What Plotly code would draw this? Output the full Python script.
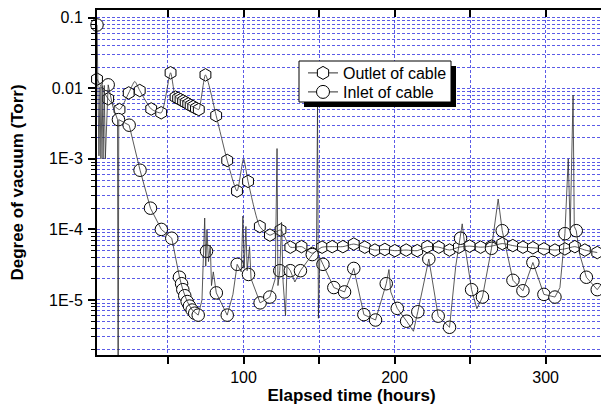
import plotly.graph_objects as go

# ---------------- data ----------------
outlet_x = [3, 10.4, 17.9, 24, 31.3, 38.9, 45.5, 51.7, 55, 56.7, 58.3, 60, 61.7, 63.4, 65, 66.7,
            68.5, 70.4, 74.8, 81.9, 89.2, 95.7, 103, 110.8, 117.5, 124.5, 131, 138.4, 145.5, 152,
            158.7, 165.8, 173, 180.3, 187, 193.6, 200.2, 207.7, 215, 221.6, 229.3, 236.4, 242.6,
            249.7, 257, 264.2, 271.3, 278.3, 285, 291.6, 298.9, 306.2, 312.8, 319.4, 326, 334.2]
outlet_y = [0.0135, 0.0071, 0.0050, 0.0086, 0.0093, 0.0051, 0.0045, 0.0166, 0.0075, 0.0072,
            0.0069, 0.0066, 0.0063, 0.0060, 0.0057, 0.0055, 0.0052, 0.0050, 0.0155, 0.0041,
            9.5e-4, 3.5e-4, 4.8e-4, 1.1e-4, 8.3e-5, 9.8e-5, 5.6e-5, 5.7e-5, 4.6e-5, 5.6e-5,
            5.7e-5, 5.7e-5, 6.2e-5, 5.6e-5, 5.1e-5, 5.2e-5, 5.0e-5, 5.1e-5, 5.0e-5, 5.7e-5,
            5.6e-5, 5.1e-5, 5.6e-5, 5.8e-5, 5.6e-5, 5.8e-5, 6.3e-5, 5.9e-5, 5.6e-5, 5.5e-5,
            5.3e-5, 5.1e-5, 5.3e-5, 5.7e-5, 5.1e-5, 4.7e-5]

# outlet recorded trace (includes short excursions between symbols)
outlet_raw_x = [3, 10.4, 17.9, 24, 28, 31.3, 38.9, 45.5, 51.7, 55, 58.3, 61.7, 65, 68.5, 70.4,
                74.8, 81.9, 89.2, 95.7, 100, 103, 110.8, 117.5, 124.5, 131, 138.4, 145.5, 152,
                158.7, 165.8, 173, 180.3, 187, 193.6, 200.2, 207.7, 215, 221.6, 229.3, 236.4,
                242.6, 249.7, 257, 264.2, 271.3, 278.3, 285, 291.6, 298.9, 306.2, 312.8, 319.4,
                326, 334.2]
outlet_raw_y = [0.0135, 0.0071, 0.0050, 0.0086, 0.0125, 0.0093, 0.0051, 0.0045, 0.0166, 0.0075,
                0.0069, 0.0063, 0.0057, 0.0052, 0.0050, 0.0155, 0.0041, 9.5e-4, 3.5e-4, 1.0e-3,
                4.8e-4, 1.1e-4, 8.3e-5, 9.8e-5, 5.6e-5, 5.7e-5, 4.6e-5, 5.6e-5, 5.7e-5, 5.7e-5,
                6.2e-5, 5.6e-5, 5.1e-5, 5.2e-5, 5.0e-5, 5.1e-5, 5.0e-5, 5.7e-5, 5.6e-5, 5.1e-5,
                5.6e-5, 5.8e-5, 5.6e-5, 5.8e-5, 6.3e-5, 5.9e-5, 5.6e-5, 5.5e-5, 5.3e-5, 5.1e-5,
                5.3e-5, 5.7e-5, 5.1e-5, 4.7e-5]

inlet_x = [3, 10.4, 17.2, 24.3, 31.5, 38.4, 45.6, 52.5, 57.6, 59.0, 59.8, 61.1, 62.7, 64.2, 66.0,
           67.7, 70.0, 75.5, 82.0, 89.2, 95.8, 103.3, 111.0, 117.4, 124.0, 131.0, 137.7, 145.5,
           152.6, 159.8, 166.9, 173.0, 179.7, 187.4, 194.5, 201.8, 208.0, 215.4, 222.7, 228.9,
           236.4, 243.7, 251.0, 258.2, 264.2, 271.3, 278.4, 285.0, 291.6, 298.9, 306.2, 312.8,
           320.3, 327.0, 334.2]
inlet_y = [0.079, 0.0112, 0.0036, 0.0030, 6.9e-4, 2.0e-4, 1.0e-4, 7.5e-5, 2.1e-5, 1.7e-5, 1.4e-5,
           1.15e-5, 9.5e-6, 8.2e-6, 7.2e-6, 6.5e-6, 6.1e-6, 4.9e-5, 1.26e-5, 6.1e-6, 3.2e-5,
           2.3e-5, 9.1e-6, 1.1e-5, 2.6e-5, 2.6e-5, 2.6e-5, 4.4e-5, 3.2e-5, 1.5e-5, 1.3e-5,
           2.8e-5, 6.2e-6, 5.2e-6, 1.7e-5, 7.6e-6, 5.0e-6, 6.8e-6, 3.8e-5, 5.9e-6, 4.1e-6,
           7.5e-5, 1.4e-5, 1.1e-5, 5.4e-5, 9.6e-5, 1.9e-5, 1.35e-5, 3.4e-5, 1.2e-5, 1.1e-5,
           8.7e-5, 9.6e-5, 2.1e-5, 1.4e-5]

# inlet recorded trace (includes spikes between symbols)
inlet_raw_x = [3, 3.8, 4.3, 5.0, 5.6, 6.4, 7.0, 7.8, 8.5, 10.4, 13.5, 16.6, 17.0, 17.4, 24.3,
               31.5, 38.4, 45.6, 52.5, 57.6, 59.8, 62.7, 66.0, 70.0, 72.5, 74.3, 75.0, 75.8,
               76.8, 78.0, 78.8, 80, 82.0, 89.2, 93, 95.8, 98.5, 99.6, 100.4, 101.6, 102.4, 104.0,
               105, 111.0, 117.4, 121.0, 122.2, 122.8, 124.0, 125.2, 126.2, 127.8, 128.8, 131.0,
               134.0, 137.7, 145.5, 148.3, 149.0, 149.6, 150.5, 152.6, 159.8, 166.9, 173.0,
               179.7, 187.4, 194.5, 196.3, 197.5, 201.8, 208.0, 212.5, 215.4, 222.7, 228.9,
               236.4, 240.5, 244.8, 246.5, 251.0, 254.5, 258.2, 264.2, 268.6, 271.3, 278.4,
               285.0, 291.6, 298.9, 306.2, 309.5, 312.8, 315.0, 316.3, 318.2, 319.0, 320.3,
               322.5, 327.0, 334.2, 338]
inlet_raw_y = [0.079, 0.0115, 0.0011, 0.0105, 0.001, 0.010, 0.001, 0.011, 0.001, 0.0112, 0.0055,
               0.0036, 1e-7, 0.0036, 0.0030, 6.9e-4, 2.0e-4, 1.0e-4, 7.5e-5, 2.1e-5, 1.4e-5,
               9.5e-6, 7.2e-6, 6.1e-6, 1.0e-5, 1.45e-4, 3.0e-5, 1.0e-4, 3.5e-5, 6.0e-5, 1.6e-5,
               2.5e-5, 1.26e-5, 6.1e-6, 1.2e-5, 3.2e-5, 2.5e-5, 1.55e-4, 2.8e-5, 1.1e-4, 2.6e-5,
               5.7e-5, 2.0e-5, 9.1e-6, 1.1e-5, 2.0e-5, 1.4e-3, 1.6e-5, 2.6e-5, 1.26e-4, 1.8e-5,
               6.0e-6, 3.0e-5, 2.6e-5, 1.8e-5, 2.6e-5, 4.4e-5, 5.0e-5, 5.6e-3, 5.5e-6, 4.0e-5,
               3.2e-5, 1.5e-5, 1.3e-5, 2.8e-5, 6.2e-6, 5.2e-6, 1.7e-5, 2.7e-5, 1.3e-5, 7.6e-6,
               5.0e-6, 3.6e-6, 6.8e-6, 3.8e-5, 5.9e-6, 4.1e-6, 3.0e-5, 1.2e-4, 6.0e-5, 1.4e-5,
               7.5e-6, 1.1e-5, 5.4e-5, 2.7e-4, 9.6e-5, 1.9e-5, 1.35e-5, 3.4e-5, 1.2e-5, 1.1e-5,
               1.5e-5, 8.7e-5, 1.0e-3, 1.0e-4, 8.0e-3, 1.1e-4, 9.6e-5, 4.5e-5, 2.1e-5, 1.4e-5,
               1.8e-5]

series_names = ["Outlet of cable", "Inlet of cable"]
x_tickvals = [50, 100, 150, 200, 250, 300]
x_ticktext = ["", "100", "", "200", "", "300"]
y_tickvals = [1e-5, 1e-4, 1e-3, 1e-2, 1e-1]
y_ticktext = ["1E-5", "1E-4", "1E-3", "0.01", "0.1"]

# ---------------- style ----------------
FONT = "Arial, 'Liberation Sans', sans-serif"
GRID = "rgba(50,50,225,0.8)"
LINE = "#303030"
y_minor = [k * 10.0 ** e for e in range(-7, 0) for k in range(2, 10)]

# the page body has an 8px margin: figure coords = page coords - 8
OFF = 8
PAGE_W, PAGE_H = 609, 405
W, H = PAGE_W - OFF, PAGE_H - OFF
PL, PT, PR, PB = 97, 10, 606, 355          # plot area in page pixels
L, T = PL - OFF, PT - OFF
R, B = W - (PR - OFF), H - (PB - OFF)
pw, ph = W - L - R, H - T - B


def px2paper(px, py):
    return (px - PL) / pw, (PB - py) / ph


fig = go.Figure()

# symbols (white filled) first, lines drawn over them
fig.add_trace(go.Scatter(x=outlet_x, y=outlet_y, mode="markers", showlegend=False,
                         cliponaxis=False,
                         marker=dict(symbol="hexagon", size=12.5, color="white",
                                     line=dict(color="black", width=1))))
fig.add_trace(go.Scatter(x=inlet_x, y=inlet_y, mode="markers", showlegend=False,
                         cliponaxis=False,
                         marker=dict(symbol="circle", size=12.5, color="white",
                                     line=dict(color="black", width=1))))
fig.add_trace(go.Scatter(x=outlet_raw_x, y=outlet_raw_y, mode="lines", showlegend=False,
                         line=dict(color=LINE, width=0.8, shape="spline", smoothing=0.6)))
fig.add_trace(go.Scatter(x=inlet_raw_x, y=inlet_raw_y, mode="lines", showlegend=False,
                         line=dict(color=LINE, width=0.8)))

# legend entries, one per legend so the row spacing can be set
legend_rows_py = [73, 92]
legend_layout = {}
for i, (name, sym) in enumerate(zip(series_names, ["hexagon", "circle"])):
    key = "legend" if i == 0 else f"legend{i + 1}"
    fig.add_trace(go.Scatter(x=[None], y=[None], mode="lines+markers", name=name,
                             legend=key, line=dict(color=LINE, width=1),
                             marker=dict(symbol=sym, size=13, color="white",
                                         line=dict(color="black", width=1))))
    lx, ly = px2paper(303, legend_rows_py[i])
    legend_layout[key] = dict(x=lx, y=ly, xanchor="left", yanchor="middle",
                              bgcolor="rgba(0,0,0,0)", borderwidth=0,
                              font=dict(family=FONT, size=16, color="black"),
                              itemwidth=30)

# empty trace to materialise the top axis
fig.add_trace(go.Scatter(x=[None], y=[None], xaxis="x2", showlegend=False, hoverinfo="skip"))

sx0, sy0 = px2paper(304, 107)
sx1, sy1 = px2paper(456, 66)
bx0, by0 = px2paper(299, 102)
bx1, by1 = px2paper(451, 61)

fig.update_layout(
    width=W, height=H,
    margin=dict(l=L, r=R, t=T, b=B, autoexpand=False),
    paper_bgcolor="white", plot_bgcolor="white",
    font=dict(family=FONT, size=16, color="black"),
    showlegend=True,
    shapes=[dict(type="rect", xref="paper", yref="paper", x0=sx0, x1=sx1, y0=sy0, y1=sy1,
                 fillcolor="black", line=dict(width=0), layer="above"),
            dict(type="rect", xref="paper", yref="paper", x0=bx0, x1=bx1, y0=by0, y1=by1,
                 fillcolor="white", line=dict(width=1, color="black"), layer="above")],
    xaxis=dict(range=[3, 340], tickmode="array", tickvals=x_tickvals, ticktext=x_ticktext,
               ticks="outside", ticklen=7, tickwidth=1.5, tickcolor="black",
               showline=True, linecolor="black", linewidth=2, mirror=False, automargin=False,
               showgrid=True, gridcolor=GRID, gridwidth=1, griddash="3px,2px",
               zeroline=False, tickfont=dict(size=16),
               title=dict(text="<b>Elapsed time (hours)</b>", font=dict(size=17), standoff=2)),
    xaxis2=dict(range=[3, 340], overlaying="x", side="top", anchor="y", automargin=False,
                tickmode="array", tickvals=x_tickvals, showticklabels=False,
                ticks="inside", ticklen=7, tickwidth=1.5, tickcolor="black",
                showline=True, linecolor="black", linewidth=2, showgrid=False, zeroline=False),
    yaxis=dict(type="log", range=[-5.78, -0.89], tickmode="array", tickvals=y_tickvals,
               ticktext=y_ticktext, ticks="outside", ticklen=7, tickwidth=1.5, tickcolor="black",
               showline=True, linecolor="black", linewidth=2, mirror=True, automargin=False,
               showgrid=True, gridcolor=GRID, gridwidth=1, griddash="3px,2px",
               zeroline=False, tickfont=dict(size=16), ticklabelstandoff=2,
               minor=dict(tickmode="array", tickvals=y_minor, ticks="outside", ticklen=4,
                          tickwidth=1, tickcolor="black", showgrid=True, gridcolor=GRID,
                          gridwidth=1, griddash="3px,2px"),
               title=dict(text="<b>Degree of vacuum (Torr)</b>", font=dict(size=17), standoff=24)),
    **legend_layout,
)

fig.write_html("out.html")
